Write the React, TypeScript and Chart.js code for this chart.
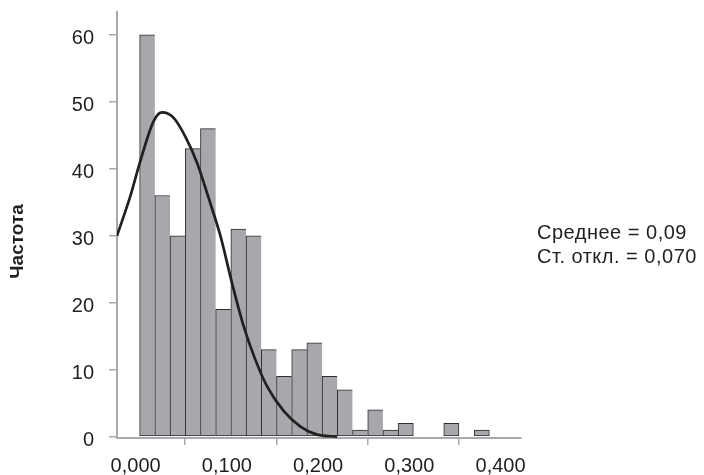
import { useEffect, useRef } from "react";
import { Chart, registerables } from "chart.js";

Chart.register(...registerables);

// Histogram bins (centres of 1/60-wide bins) and their frequencies
const BIN_CENTERS = [
  0.00833, 0.025, 0.04167, 0.05833, 0.075, 0.09167, 0.10833, 0.125,
  0.14167, 0.15833, 0.175, 0.19167, 0.20833, 0.225, 0.24167, 0.25833,
  0.275, 0.29167, 0.30833, 0.325, 0.34167, 0.35833, 0.375, 0.39167,
];
const FREQUENCIES = [
  60, 36, 30, 43, 46, 19, 31, 30, 13, 9, 13, 14, 9, 7, 1, 4, 1, 2, 0, 0, 2, 0,
  1, 0,
];

// Fitted density curve
const CURVE_X = [
  -0.0248, -0.0102, 0.0, 0.0154, 0.0246, 0.0373, 0.0501, 0.0629, 0.0757,
  0.0885, 0.1013, 0.114, 0.1268, 0.1397, 0.158, 0.1762, 0.1945, 0.2165,
];
const CURVE_Y = [
  30.0, 35.9, 40.8, 47.1, 48.4, 47.6, 44.8, 40.9, 35.6, 30.0, 22.9, 16.5,
  11.5, 7.5, 3.8, 1.5, 0.3, 0.0,
];

const X_TICKS = [0, 0.1, 0.2, 0.3, 0.4];
const Y_TICKS = [0, 10, 20, 30, 40, 50, 60];
const X_RANGE = [-0.0248, 0.418];
const Y_RANGE = [-0.2, 63.4];

const Y_TITLE = "Частота";
const STATS_LINES = ["Среднее = 0,09", "Ст. откл. = 0,070"];

const FONT = "'Liberation Sans', Arial, sans-serif";
const AXIS_GRAY = "#a9a9ad";
const TEXT_DARK = "#231f20";

const textPlugin = {
  id: "sideText",
  afterDraw(chart: Chart) {
    const ctx = chart.ctx;
    ctx.save();
    ctx.fillStyle = TEXT_DARK;
    // rotated axis title
    ctx.save();
    ctx.translate(17.5, 241.5);
    ctx.rotate(-Math.PI / 2);
    ctx.font = `bold 19px ${FONT}`;
    ctx.textAlign = "center";
    ctx.textBaseline = "middle";
    ctx.fillText(Y_TITLE, 0, 0);
    ctx.restore();
    // summary statistics
    ctx.font = `20px ${FONT}`;
    (ctx as any).letterSpacing = "0.5px";
    ctx.textAlign = "left";
    ctx.textBaseline = "alphabetic";
    STATS_LINES.forEach((line, i) => {
      ctx.fillText(line, 537, 239 + i * 24.3);
    });
    ctx.restore();
  },
};

export default function App() {
  const canvasRef = useRef<HTMLCanvasElement | null>(null);

  useEffect(() => {
    document.body.style.margin = "0";
    const canvas = canvasRef.current;
    if (!canvas) return;

    const bars = BIN_CENTERS.map((x, i) => ({
      x,
      y: FREQUENCIES[i] === 0 ? null : FREQUENCIES[i],
    }));
    const curve = CURVE_X.map((x, i) => ({ x, y: CURVE_Y[i] }));

    // shared edges between neighbouring bars are drawn once
    const barBorder = (c: any) => {
      const i = c.dataIndex;
      const nextEmpty = i >= FREQUENCIES.length - 1 || FREQUENCIES[i + 1] === 0;
      return { top: 1, left: 1, bottom: 1, right: nextEmpty ? 1 : 0 };
    };

    const chart = new Chart(canvas, {
      type: "bar",
      data: {
        datasets: [
          {
            type: "line",
            data: curve as any,
            borderColor: TEXT_DARK,
            borderWidth: 2.7,
            pointRadius: 0,
            cubicInterpolationMode: "monotone",
            fill: false,
            order: 1,
          } as any,
          {
            type: "bar",
            data: bars as any,
            backgroundColor: "#a7a8ac",
            borderColor: "#2d2c2e",
            borderWidth: barBorder as any,
            borderSkipped: false,
            barPercentage: 1,
            categoryPercentage: 1,
            grouped: false,
            order: 2,
          } as any,
        ],
      },
      options: {
        responsive: false,
        animation: false,
        layout: { padding: { left: 0, top: 12, right: 183, bottom: 0 } },
        plugins: {
          legend: { display: false },
          tooltip: { enabled: false },
        },
        scales: {
          x: {
            type: "linear",
            min: X_RANGE[0],
            max: X_RANGE[1],
            offset: false,
            afterBuildTicks: (s: any) => {
              s.ticks = X_TICKS.map((v) => ({ value: v }));
            },
            afterFit: (s: any) => {
              s.height = 37;
              s.paddingLeft = 0;
              s.paddingRight = 0;
              s.paddingTop = 0;
              s.paddingBottom = 0;
            },
            ticks: {
              autoSkip: false,
              maxRotation: 0,
              padding: 9,
              labelOffset: -4,
              color: TEXT_DARK,
              font: { family: FONT, size: 20 },
              callback: (v: any) => Number(v).toFixed(3).replace(".", ","),
            },
            grid: {
              drawOnChartArea: false,
              drawTicks: true,
              tickLength: 7,
              color: AXIS_GRAY,
              lineWidth: 1.5,
            },
            border: { display: true, color: AXIS_GRAY, width: 2 },
          },
          y: {
            type: "linear",
            min: Y_RANGE[0],
            max: Y_RANGE[1],
            afterBuildTicks: (s: any) => {
              s.ticks = Y_TICKS.map((v) => ({ value: v }));
            },
            afterFit: (s: any) => {
              s.width = 117;
              s.paddingLeft = 0;
              s.paddingRight = 0;
              s.paddingTop = 0;
              s.paddingBottom = 0;
            },
            ticks: {
              padding: 15,
              labelOffset: 4,
              color: TEXT_DARK,
              font: { family: FONT, size: 20 },
            },
            grid: {
              drawOnChartArea: false,
              drawTicks: true,
              tickLength: 8,
              color: AXIS_GRAY,
              lineWidth: 1.5,
            },
            border: { display: true, color: AXIS_GRAY, width: 2 },
          },
        },
      },
      plugins: [textPlugin],
    });

    return () => chart.destroy();
  }, []);

  return <canvas ref={canvasRef} width={704} height={475} />;
}
